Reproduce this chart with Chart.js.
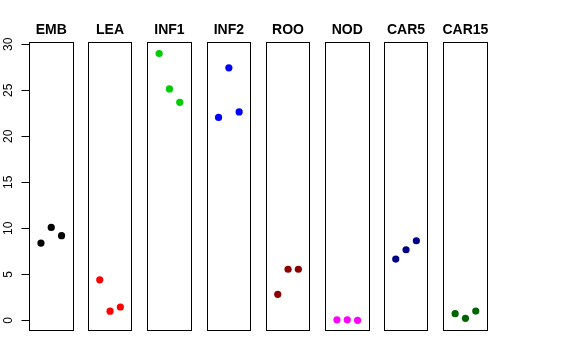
<!DOCTYPE html>
<html>
<head>
<meta charset="utf-8">
<script src="https://cdn.jsdelivr.net/npm/chart.js@4"></script>
<style>
  html, body { margin: 0; padding: 0; background: #fff; }
  #wrap { position: relative; width: 576px; height: 360px; }
  #wrap canvas { position: absolute; left: 0; top: 0; }
</style>
</head>
<body>
<div id="wrap"></div>
<script>
// one panel per tissue, three replicates each
const panelNames = ['EMB', 'LEA', 'INF1', 'INF2', 'ROO', 'NOD', 'CAR5', 'CAR15']
const panelColors = ['#000000', '#FF0000', '#00CD00', '#0000FF', '#8B0000', '#FF00FF', '#00008B', '#006400']
const repIndex = [1, 2, 3]
const embValues = [8.4, 10.1, 9.2]
const leaValues = [4.4, 1.0, 1.45]
const inf1Values = [29.0, 25.15, 23.7]
const inf2Values = [22.05, 27.45, 22.65]
const rooValues = [2.83, 5.55, 5.55]
const nodValues = [0.05, 0.05, 0.0]
const car5Values = [6.66, 7.67, 8.65]
const car15Values = [0.72, 0.22, 1.01]
const yTickLabels = [0, 5, 10, 15, 20, 25, 30]

const panelValues = [embValues, leaValues, inf1Values, inf2Values, rooValues, nodValues, car5Values, car15Values]

// layout of the panel boxes (pixels)
const boxLefts = [29, 87.8, 147.2, 206.6, 265.8, 325, 383.8, 443.2]
const boxWidth = 44.5
const boxTop = 42.3
const boxBottom = 331
const yMin = -1.16, yMax = 30.22
const xMin = -0.16, xMax = 4.16
const fontFamily = '"Liberation Sans", Arial, Helvetica, sans-serif'

const boxPlugin = {
    id: 'panelBox',
    afterDraw(chart, args, opts) {
        const a = chart.chartArea
        const ctx = chart.ctx
        ctx.save()
        ctx.strokeStyle = '#000'
        ctx.lineWidth = 1
        const l = Math.round(a.left) + 0.5
        const r = Math.round(a.right) - 0.5
        const t = Math.round(a.top) + 0.5
        const b = Math.round(a.bottom) - 0.5
        ctx.strokeRect(l, t, r - l, b - t)
        // title
        ctx.fillStyle = '#000'
        ctx.font = 'bold 14px ' + fontFamily
        ctx.textAlign = 'center'
        ctx.textBaseline = 'alphabetic'
        ctx.fillText(opts.name, (a.left + a.right) / 2, 34)
        ctx.restore()
    }
}

const yLabelPlugin = {
    id: 'rotatedYLabels',
    afterDraw(chart) {
        const y = chart.scales.y
        if (!y.options.display) return
        const ctx = chart.ctx
        ctx.save()
        ctx.fillStyle = '#000'
        ctx.font = '12px ' + fontFamily
        ctx.textAlign = 'center'
        ctx.textBaseline = 'alphabetic'
        yTickLabels.forEach(v => {
            const py = y.getPixelForValue(v)
            ctx.save()
            ctx.translate(11.5, py)
            ctx.rotate(-Math.PI / 2)
            ctx.fillText(String(v), 0, 0)
            ctx.restore()
        })
        ctx.restore()
    }
}

function makePanel(i) {
    const canvas = document.createElement('canvas')
    canvas.width = 576
    canvas.height = 360
    document.getElementById('wrap').appendChild(canvas)
    const withAxis = i === 0
    const padLeft = withAxis ? 0 : boxLefts[i]

    new Chart(canvas, {
        type: 'scatter',
        data: {
            datasets: [{
                data: repIndex.map((x, k) => ({ x: x, y: panelValues[i][k] })),
                backgroundColor: panelColors[i],
                borderWidth: 0,
                pointRadius: 3.6,
                pointHoverRadius: 3.6
            }]
        },
        options: {
            responsive: false,
            animation: false,
            events: [],
            layout: {
                padding: {
                    left: padLeft,
                    right: 576 - boxLefts[i] - boxWidth,
                    top: boxTop,
                    bottom: 360 - boxBottom
                }
            },
            plugins: {
                legend: { display: false },
                tooltip: { enabled: false },
                panelBox: { name: panelNames[i] }
            },
            scales: {
                x: { type: 'linear', min: xMin, max: xMax, display: false },
                y: {
                    type: 'linear',
                    min: yMin,
                    max: yMax,
                    display: withAxis,
                    afterFit(scale) {
                        if (withAxis) scale.width = boxLefts[0]
                    },
                    afterBuildTicks(scale) {
                        scale.ticks = yTickLabels.map(v => ({ value: v }))
                    },
                    ticks: { display: false },
                    border: { display: false },
                    grid: {
                        drawOnChartArea: false,
                        drawTicks: true,
                        tickLength: 7.5,
                        color: '#000',
                        lineWidth: 1
                    }
                }
            }
        },
        plugins: [boxPlugin, yLabelPlugin]
    })
}

window.addEventListener('load', () => {
    panelNames.forEach((n, i) => makePanel(i))
})
</script>
</body>
</html>
